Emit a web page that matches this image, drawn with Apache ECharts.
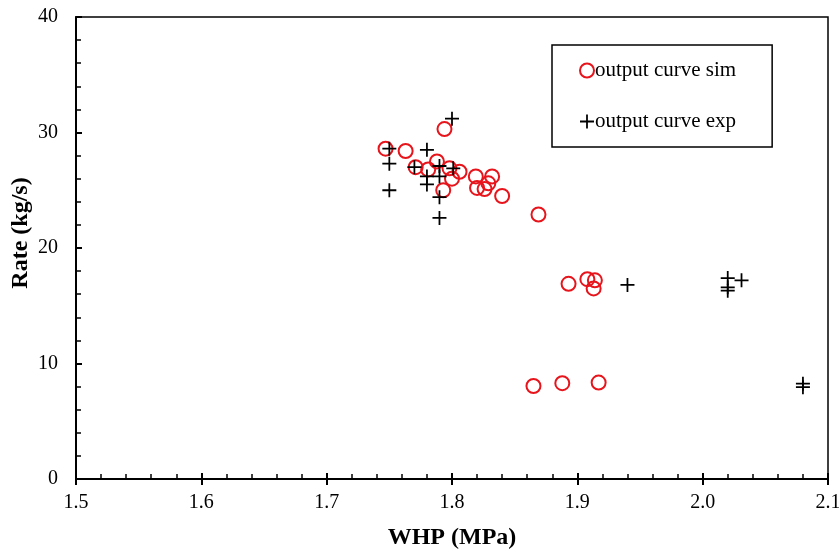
<!DOCTYPE html>
<html><head><meta charset="utf-8">
<script src="https://cdn.jsdelivr.net/npm/echarts@6/dist/echarts.min.js"></script>
<style>html,body{margin:0;padding:0;background:#fff}#c{width:839px;height:549px}</style>
</head><body><div id="c"></div>
<script>
const simX = [1.747, 1.763, 1.771, 1.781, 1.788, 1.794, 1.793, 1.798, 1.800, 1.806, 1.819, 1.820, 1.826, 1.829, 1.832, 1.840, 1.869, 1.893, 1.908, 1.914, 1.913, 1.865, 1.888, 1.917];
const simY = [28.6, 28.4, 27.0, 26.8, 27.5, 30.3, 25.0, 26.9, 26.0, 26.6, 26.2, 25.2, 25.1, 25.6, 26.2, 24.5, 22.9, 16.9, 17.3, 17.2, 16.5, 8.05, 8.3, 8.35];
const expX = [1.800, 1.750, 1.750, 1.750, 1.780, 1.770, 1.790, 1.790, 1.780, 1.780, 1.801, 1.790, 1.790, 1.940, 2.020, 2.020, 2.020, 2.031, 2.080, 2.080];
const expY = [31.2, 28.6, 27.3, 25.0, 28.5, 27.0, 27.1, 26.2, 26.2, 25.5, 26.9, 24.4, 22.6, 16.8, 17.4, 16.6, 16.3, 17.2, 8.25, 7.95];
const seriesNames = ['output curve sim', 'output curve exp'];
const xTitle = 'WHP (MPa)';
const yTitle = 'Rate (kg/s)';

const font = 'Liberation Serif, Times New Roman, serif';
const plus = 'path://M9,0h2.6v9h9v2.6h-9v9h-2.6v-9h-9v-2.6h9z';
const chart = echarts.init(document.getElementById('c'));
chart.setOption({
  animation: false,
  backgroundColor: '#fff',
  textStyle: {fontFamily: font, color: '#000'},
  grid: {left: 76, right: 11, top: 17, bottom: 70, containLabel: false, outerBoundsMode: 'none',
    show: true, borderColor: '#000', borderWidth: 1.5, backgroundColor: 'transparent'},
  legend: {
    left: 552, top: 45, orient: 'vertical',
    borderColor: '#000', borderWidth: 1.5,
    padding: [15, 36, 15, 27], itemGap: 30,
    itemWidth: 14, itemHeight: 14,
    textStyle: {fontFamily: font, fontSize: 21, color: '#000', padding: [0, 0, 0, -4]},
    data: seriesNames
  },
  xAxis: [{
    type: 'value', min: 1.5, max: 2.1, interval: 0.1,
    name: xTitle, nameLocation: 'middle', nameGap: 47, nameMoveOverlap: false,
    nameTextStyle: {fontFamily: font, fontSize: 24, fontWeight: 'bold', color: '#000'},
    axisLine: {lineStyle: {color: '#000', width: 2}},
    axisTick: {inside: true, length: 6, lineStyle: {color: '#000', width: 2}},
    minorTick: {show: true, splitNumber: 5, length: 5, lineStyle: {color: '#000', width: 1.5}},
    splitLine: {show: false},
    axisLabel: {margin: 14, fontFamily: font, fontSize: 20, color: '#000', formatter: v => v.toFixed(1)}
  }, {
    type: 'value', min: 1.5, max: 2.1, interval: 0.1, position: 'bottom',
    axisLine: {show: false},
    axisTick: {inside: false, length: 6, lineStyle: {color: '#000', width: 2}},
    axisLabel: {show: false}, splitLine: {show: false}
  }],
  yAxis: {
    type: 'value', min: 0, max: 40, interval: 10,
    name: yTitle, nameLocation: 'middle', nameGap: 43, nameMoveOverlap: false,
    nameTextStyle: {fontFamily: font, fontSize: 24, fontWeight: 'bold', color: '#000', padding: [0, 0, 0, 30]},
    axisLine: {lineStyle: {color: '#000', width: 2}},
    axisTick: {inside: true, length: 6, lineStyle: {color: '#000', width: 2}},
    minorTick: {show: true, splitNumber: 5, length: 5, lineStyle: {color: '#000', width: 1.5}},
    splitLine: {show: false},
    axisLabel: {margin: 18, fontFamily: font, fontSize: 20, color: '#000'}
  },
  series: [{
    name: seriesNames[0], type: 'scatter', symbol: 'circle', symbolSize: 14,
    itemStyle: {color: 'rgba(255,255,255,0)', borderColor: '#e8141b', borderWidth: 2, opacity: 1},
    data: simX.map((x, i) => [x, simY[i]])
  }, {
    name: seriesNames[1], type: 'scatter', symbol: plus, symbolSize: 14,
    itemStyle: {color: '#000', opacity: 1},
    data: expX.map((x, i) => [x, expY[i]])
  }]
});
</script></body></html>
